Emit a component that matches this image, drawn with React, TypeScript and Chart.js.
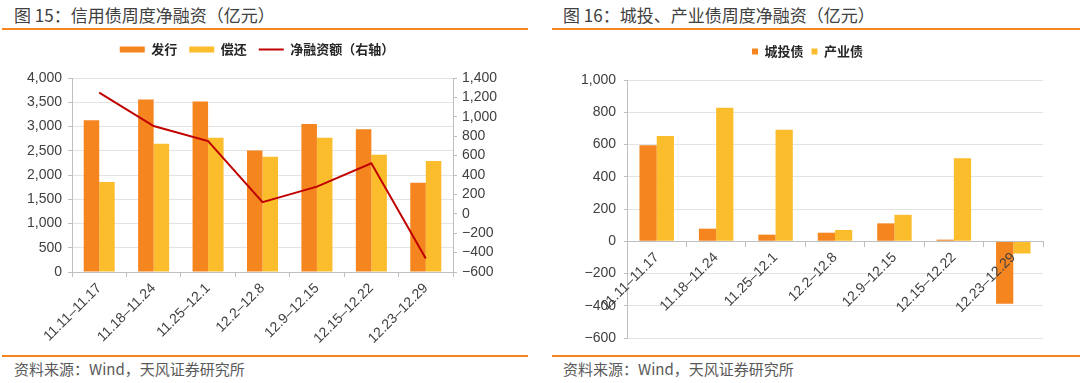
import React, { useEffect, useRef } from 'react';
import { Chart, registerables } from 'chart.js';

Chart.register(...registerables);

const categories = ['11.11–11.17', '11.18–11.24', '11.25–12.1', '12.2–12.8', '12.9–12.15', '12.15–12.22', '12.23–12.29'];
const issuance = [3130, 3555, 3515, 2505, 3050, 2945, 1840];
const repayment = [1855, 2645, 2770, 2375, 2770, 2420, 2290];
const netFinancing = [1250, 905, 750, 120, 280, 520, -460];
const chengtou = [595, 78, 41, 53, 111, 10, -387];
const chanye = [652, 828, 692, 70, 164, 514, -76];

const leftAxis = { min: 0, max: 4000, step: 500 };
const rightAxis = { min: -600, max: 1400, step: 200 };
const axis16 = { min: -600, max: 1000, step: 200 };

const ORANGE = '#F4851F';
const YELLOW = '#FCBD2D';
const RED = '#C00000';
const TICK_COLOR = '#404040';
const AXIS_COLOR = '#BFBFBF';
const GRID_COLOR = '#E3E3E3';
const FONT = '"Liberation Sans", Arial, "Noto Sans CJK SC", sans-serif';
const CJK = '"Noto Sans CJK SC", "Microsoft YaHei", sans-serif';

const fmt = (v: number) => Number(v).toLocaleString('en-US').replace('-', '−');

const legendGap = (extra: number) => ({
  id: 'legendGap',
  beforeInit(chart: any) {
    const legend = chart.legend;
    if (!legend) return;
    const origFit = legend.fit;
    legend.fit = function () {
      origFit.call(this);
      this.height += extra;
    };
  },
});

function LeftChart() {
  const ref = useRef<HTMLCanvasElement | null>(null);
  useEffect(() => {
    if (!ref.current) return;
    const chart = new Chart(ref.current, {
      type: 'bar',
      data: {
        labels: categories,
        datasets: [
          { type: 'bar', label: '发行', data: issuance, backgroundColor: ORANGE, yAxisID: 'y', order: 1, pointStyle: 'rect', barPercentage: 1, categoryPercentage: 0.57 },
          { type: 'bar', label: '偿还', data: repayment, backgroundColor: YELLOW, yAxisID: 'y', order: 1, pointStyle: 'rect', barPercentage: 1, categoryPercentage: 0.57 },
          { type: 'line', label: '净融资额（右轴）', data: netFinancing, borderColor: RED, backgroundColor: RED, borderWidth: 2, pointRadius: 0, yAxisID: 'y1', order: 0, pointStyle: 'line', tension: 0 },
        ] as any,
      },
      plugins: [legendGap(12)],
      options: {
        animation: false,
        responsive: false,
        maintainAspectRatio: false,
        layout: { padding: { top: 0, left: 0, right: 26, bottom: 0 } },
        plugins: {
          tooltip: { enabled: false },
          legend: {
            position: 'top',
            labels: {
              usePointStyle: true,
              pointStyleWidth: 25,
              boxHeight: 6,
              padding: 12,
              color: '#262626',
              font: { family: CJK, size: 13, weight: 'bold' },
              sort: (a: any, b: any) => a.datasetIndex - b.datasetIndex,
            },
          },
        },
        scales: {
          x: {
            grid: { offset: true, drawOnChartArea: false, drawTicks: true, tickLength: 5, color: AXIS_COLOR },
            border: { color: AXIS_COLOR },
            ticks: { maxRotation: 45, minRotation: 45, autoSkip: false, color: TICK_COLOR, font: { family: FONT, size: 14 } },
            afterFit: (s: any) => { s.height = 83; },
          },
          y: {
            position: 'left',
            min: leftAxis.min,
            max: leftAxis.max,
            ticks: { stepSize: leftAxis.step, autoSkip: false, color: TICK_COLOR, font: { family: FONT, size: 14 }, padding: 6, callback: (v: any) => fmt(v) },
            grid: { color: GRID_COLOR, tickColor: AXIS_COLOR, tickLength: 4 },
            border: { color: AXIS_COLOR },
            afterFit: (s: any) => { s.width = 72; },
          },
          y1: {
            position: 'right',
            min: rightAxis.min,
            max: rightAxis.max,
            ticks: { stepSize: rightAxis.step, autoSkip: false, color: TICK_COLOR, font: { family: FONT, size: 14 }, padding: 5, callback: (v: any) => fmt(v) },
            grid: { drawOnChartArea: false, tickColor: AXIS_COLOR, tickLength: 4 },
            border: { color: AXIS_COLOR },
            afterFit: (s: any) => { s.width = 61; },
          },
        },
      } as any,
    });
    return () => chart.destroy();
  }, []);
  return <canvas ref={ref} width={540} height={324} style={{ position: 'absolute', left: 0, top: 31, width: 540, height: 324 }} />;
}

function RightChart() {
  const ref = useRef<HTMLCanvasElement | null>(null);
  useEffect(() => {
    if (!ref.current) return;
    const chart = new Chart(ref.current, {
      type: 'bar',
      data: {
        labels: categories,
        datasets: [
          { label: '城投债', data: chengtou, backgroundColor: ORANGE, barPercentage: 1, categoryPercentage: 0.58 },
          { label: '产业债', data: chanye, backgroundColor: YELLOW, barPercentage: 1, categoryPercentage: 0.58 },
        ],
      },
      plugins: [legendGap(12)],
      options: {
        animation: false,
        responsive: false,
        maintainAspectRatio: false,
        layout: { padding: { top: 4, left: 20, right: 37, bottom: 17 } },
        plugins: {
          tooltip: { enabled: false },
          legend: {
            position: 'top',
            labels: {
              boxWidth: 6,
              boxHeight: 6,
              padding: 8,
              color: '#262626',
              font: { family: CJK, size: 13, weight: 'bold' },
            },
          },
        },
        scales: {
          x: {
            position: { y: 0 },
            grid: { offset: true, drawOnChartArea: false, drawTicks: true, tickLength: 5, color: AXIS_COLOR, z: 1 },
            border: { color: AXIS_COLOR, z: 1 },
            ticks: { z: 1, maxRotation: 45, minRotation: 45, autoSkip: false, color: TICK_COLOR, font: { family: FONT, size: 14 } },
          },
          y: {
            min: axis16.min,
            max: axis16.max,
            ticks: { stepSize: axis16.step, autoSkip: false, color: TICK_COLOR, font: { family: FONT, size: 14 }, padding: 8, callback: (v: any) => fmt(v) },
            grid: { color: GRID_COLOR, tickColor: AXIS_COLOR, tickLength: 3 },
            border: { color: AXIS_COLOR },
            afterFit: (s: any) => { s.width = 55; },
          },
        },
      } as any,
    });
    return () => chart.destroy();
  }, []);
  return <canvas ref={ref} width={528} height={322} style={{ position: 'absolute', left: 552, top: 33, width: 528, height: 322 }} />;
}

const titleStyle: React.CSSProperties = {
  position: 'absolute', top: 3, fontFamily: CJK, fontSize: 17, color: '#404040', whiteSpace: 'nowrap', lineHeight: '24px',
};
const sourceStyle: React.CSSProperties = {
  position: 'absolute', top: 359, fontFamily: CJK, fontSize: 15, color: '#595959', whiteSpace: 'nowrap', lineHeight: '20px',
};
const line = (left: number, top: number, width: number): React.CSSProperties => ({
  position: 'absolute', left, top, width, height: 2, background: '#F4851F',
});

export default function App() {
  return (
    <div style={{ position: 'absolute', left: 0, top: 0, width: 1080, height: 383, background: '#fff', overflow: 'hidden' }}>
      <div style={{ ...titleStyle, left: 14 }}>图 15：信用债周度净融资（亿元）</div>
      <div style={{ ...titleStyle, left: 563 }}>图 16：城投、产业债周度净融资（亿元）</div>
      <div style={line(2, 28, 526)} />
      <div style={line(552, 28, 528)} />
      <LeftChart />
      <RightChart />
      <div style={line(2, 355, 526)} />
      <div style={line(552, 355, 528)} />
      <div style={{ ...sourceStyle, left: 14 }}>资料来源：Wind，天风证券研究所</div>
      <div style={{ ...sourceStyle, left: 563 }}>资料来源：Wind，天风证券研究所</div>
    </div>
  );
}
